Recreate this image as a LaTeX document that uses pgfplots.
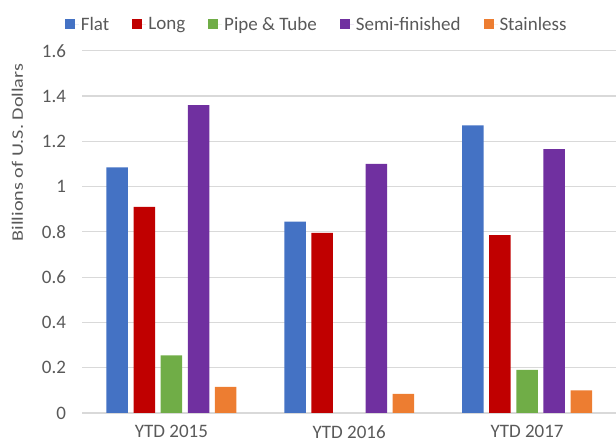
\documentclass[border=0pt]{standalone}
\usepackage{pgfplots}
\pgfplotsset{compat=1.18}
\usepackage{fontspec}
\setmainfont{Carlito}
\definecolor{cFlat}{HTML}{4472C4}
\definecolor{cLong}{HTML}{C00000}
\definecolor{cPipe}{HTML}{70AD47}
\definecolor{cSemi}{HTML}{7030A0}
\definecolor{cStain}{HTML}{ED7D31}
\definecolor{cGrid}{HTML}{D9D9D9}
\definecolor{cText}{HTML}{595959}
\begin{document}
\begin{tikzpicture}
\useasboundingbox (-82.5pt,-31pt) rectangle (533.5pt,413pt);
\begin{axis}[
  scale only axis,
  width=533.5pt, height=362.3pt,
  at={(0pt,0pt)}, anchor=south west,
  ymin=0, ymax=1.6, ytick={0,0.2,...,1.6},
  xmin=-0.5, xmax=2.5,
  xtick={0,1,2}, xticklabels={YTD 2015,YTD 2016,YTD 2017},
  axis line style={draw=none},
  axis x line*=bottom,
  x axis line style={draw=cGrid, line width=1.2pt},
  major tick length=0pt,
  ymajorgrids, grid style={cGrid, line width=1.2pt},
  tick label style={font=\fontsize{19}{22}\selectfont, text=cText},
  /pgf/number format/assume math mode=true,
  xticklabel style={yshift=-9pt},
  yticklabel style={xshift=-13pt},
  ybar, bar width=21.5pt,
  legend columns=5,
  legend style={draw=none, fill=none, at={(rel axis cs:0.439,1.073)}, anchor=center,
    font=\fontsize{19}{22}\selectfont, text=cText,
    nodes={inner xsep=2pt},
    /tikz/every even column/.append style={column sep=21pt}},
  legend image code/.code={\fill[#1] (0pt,-5pt) rectangle (10pt,5pt); \path (0pt,0pt) rectangle (14pt,0pt);},
  clip=false,
]
\addplot[fill=cFlat, draw=none, bar shift=-54.2pt] coordinates {(0,1.085) (1,0.845) (2,1.27)};
\addplot[fill=cLong, draw=none, bar shift=-27.1pt] coordinates {(0,0.91) (1,0.795) (2,0.785)};
\addplot[fill=cPipe, draw=none, bar shift=0pt] coordinates {(0,0.255) (2,0.19)};
\addplot[fill=cSemi, draw=none, bar shift=27.1pt] coordinates {(0,1.36) (1,1.10) (2,1.165)};
\addplot[fill=cStain, draw=none, bar shift=54.2pt] coordinates {(0,0.115) (1,0.085) (2,0.10)};
\legend{Flat,Long,Pipe \& Tube,Semi-finished,Stainless}
\end{axis}
\node[rotate=90, text=cText, font=\fontsize{16}{19}\selectfont] at (-65pt,260.5pt) {\scalebox{1.26}[1]{Billions of U.S. Dollars}};
\end{tikzpicture}
\end{document}
